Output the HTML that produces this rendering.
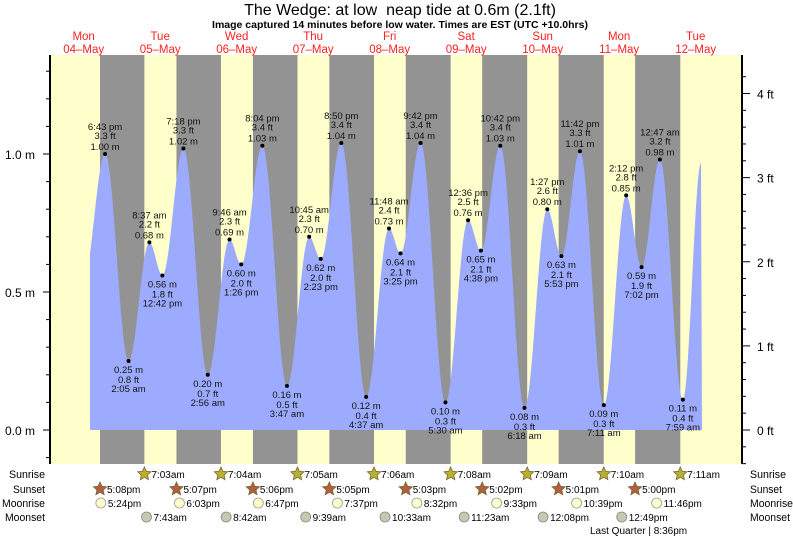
<!DOCTYPE html>
<html><head><meta charset="utf-8"><style>
body{margin:0;background:#fff;width:793px;height:538px;overflow:hidden}
svg{font-family:"Liberation Sans",sans-serif}
</style></head><body>
<svg id="s" width="793" height="538" xmlns="http://www.w3.org/2000/svg"></svg>
<script>
const s=document.getElementById('s');let h='';
const X0=45.4,PD=76.5,PH=PD/24;
const X=t=>X0+t*PH; const Y=m=>430-m*276;
const hm=(d,hh,mm,pm)=>d*24+((hh%12)+(pm?12:0))+mm/60;
h+=`<rect x="50" y="55" width="692" height="409" fill="#ffffcc"/>`;
const ss=[[5,8],[5,7],[5,6],[5,5],[5,3],[5,2],[5,1],[5,0]];
const sr=[[7,3],[7,4],[7,5],[7,6],[7,8],[7,9],[7,10],[7,11]];
for(let i=0;i<8;i++){const a=X(hm(i,ss[i][0],ss[i][1],1)),b=X(hm(i+1,sr[i][0],sr[i][1],0));h+=`<rect x="${a}" y="55" width="${b-a}" height="409" fill="#939393"/>`;}
const ev=[[hm(0,12,0,1),0.55],[hm(0,6,43,1),1.00,'6:43 pm'],
[hm(1,2,5,0),.25,'2:05 am'],[hm(1,8,37,0),.68,'8:37 am'],[hm(1,12,42,1),.56,'12:42 pm'],[hm(1,7,18,1),1.02,'7:18 pm'],
[hm(2,2,56,0),.20,'2:56 am'],[hm(2,9,46,0),.69,'9:46 am'],[hm(2,1,26,1),.60,'1:26 pm'],[hm(2,8,4,1),1.03,'8:04 pm'],
[hm(3,3,47,0),.16,'3:47 am'],[hm(3,10,45,0),.70,'10:45 am'],[hm(3,2,23,1),.62,'2:23 pm'],[hm(3,8,50,1),1.04,'8:50 pm'],
[hm(4,4,37,0),.12,'4:37 am'],[hm(4,11,48,0),.73,'11:48 am'],[hm(4,3,25,1),.64,'3:25 pm'],[hm(4,9,42,1),1.04,'9:42 pm'],
[hm(5,5,30,0),.10,'5:30 am'],[hm(5,12,36,1),.76,'12:36 pm'],[hm(5,4,38,1),.65,'4:38 pm'],[hm(5,10,42,1),1.03,'10:42 pm'],
[hm(6,6,18,0),.08,'6:18 am'],[hm(6,1,27,1),.80,'1:27 pm'],[hm(6,5,53,1),.63,'5:53 pm'],[hm(6,11,42,1),1.01,'11:42 pm'],
[hm(7,7,11,0),.09,'7:11 am'],[hm(7,2,12,1),.85,'2:12 pm'],[hm(7,7,2,1),.59,'7:02 pm'],
[hm(8,12,47,0),.98,'12:47 am'],[hm(8,7,59,0),.11,'7:59 am'],[hm(8,1,45,1),.97]];
function lv(t){for(let i=0;i<ev.length-1;i++){const a=ev[i],b=ev[i+1];if(t>=a[0]&&t<=b[0]){const f=(t-a[0])/(b[0]-a[0]);return a[1]+(b[1]-a[1])*(1-Math.cos(Math.PI*f))/2;}}return 0;}
let p=`M90,430`;for(let x=90;x<=702;x+=1){p+=`L${x},${Y(lv((x-X0)/PH)).toFixed(1)}`;}p+=`L702,430Z`;
h+=`<path d="${p}" fill="#9dabff"/>`;
ev.forEach((e,i)=>{if(!e[2])return;const x=X(e[0]),y=Y(e[1]);const ft=(e[1]/0.3048).toFixed(1),m=e[1].toFixed(2);
h+=`<circle cx="${x}" cy="${y}" r="2" fill="#000"/>`;const hi=e[1]>0.5&&(i==0||ev[i-1][1]<e[1]);
const t=(yy,s)=>`<text x="${x}" y="${yy}" font-size="9.5" text-anchor="middle" fill="#111">${s}</text>`;
if(hi)h+=t(y-24,e[2])+t(y-15,ft+' ft')+t(y-4,m+' m');else h+=t(y+12,m+' m')+t(y+22,ft+' ft')+t(y+31,e[2]);});
h+=`<line x1="50" y1="55" x2="50" y2="464" stroke="#000" stroke-width="2"/><line x1="742" y1="55" x2="742" y2="464" stroke="#000" stroke-width="2"/>`;
for(let m=-0.1;m<=1.35;m+=0.1){const y=Y(m);if(y<55||y>464)continue;const maj=Math.abs(m*2-Math.round(m*2))<.01;h+=`<line x1="${maj?43:46}" y1="${y}" x2="50" y2="${y}" stroke="#000"/>`;}
[[0,'0.0 m'],[.5,'0.5 m'],[1,'1.0 m']].forEach(a=>h+=`<text x="35" y="${Y(a[0])+5}" font-size="12" text-anchor="end">${a[1]}</text>`);
for(let f=-1.2;f<=4.4;f+=0.2){const y=Y(f*0.3048);if(y<55||y>464)continue;const maj=Math.abs(f-Math.round(f))<.01;h+=`<line x1="742" y1="${y}" x2="${maj?750:746}" y2="${y}" stroke="#000"/>`;if(maj&&Math.round(f)>=0)h+=`<text x="757" y="${y+5}" font-size="12">${Math.round(f)} ft</text>`;}
h+=`<text x="400" y="15" font-size="16" text-anchor="middle">The Wedge: at low&#160; neap tide at 0.6m (2.1ft)</text>`;
h+=`<text x="400" y="28" font-size="10.5" font-weight="bold" text-anchor="middle">Image captured 14 minutes before low water. Times are EST (UTC +10.0hrs)</text>`;
const dn=['Mon','Tue','Wed','Thu','Fri','Sat','Sun','Mon','Tue'];
for(let i=0;i<9;i++){const x=X(i*24+12);h+=`<text x="${x}" y="40" font-size="11.5" fill="#ff2020" text-anchor="middle">${dn[i]}</text><text x="${x}" y="53" font-size="11.5" fill="#ff2020" text-anchor="middle">${String(4+i).padStart(2,'0')}–May</text>`;}
const rows=[['Sunrise',474,36],['Sunset',489,32],['Moonrise',503,43],['Moonset',517,40]];
rows.forEach(r=>{h+=`<text x="${45-r[2]}" y="${r[1]+4}" font-size="11" textLength="${r[2]}" lengthAdjust="spacingAndGlyphs">${r[0]}</text><text x="750" y="${r[1]+4}" font-size="11" textLength="${r[2]}" lengthAdjust="spacingAndGlyphs">${r[0]}</text>`;});
const star=(x,y,c)=>{let q='';for(let k=0;k<10;k++){const a=-Math.PI/2+k*Math.PI/5,rr=k%2?3.3:7;q+=(k?'L':'M')+(x+rr*Math.cos(a)).toFixed(1)+','+(y+rr*Math.sin(a)).toFixed(1);}return `<path d="${q}Z" fill="${c}" stroke="#776633" stroke-width=".8"/>`;};
const lab=(x,y,s)=>`<text x="${x+7}" y="${y+4}" font-size="10">${s}</text>`;
for(let i=0;i<8;i++){let x=X(hm(i+1,sr[i][0],sr[i][1],0));h+=star(x,474,'#b8b030')+lab(x,474,`${sr[i][0]}:${String(sr[i][1]).padStart(2,'0')}am`);
x=X(hm(i,ss[i][0],ss[i][1],1));h+=star(x,489,'#b06040')+lab(x,489,`${ss[i][0]}:${String(ss[i][1]).padStart(2,'0')}pm`);}
const mr=[[5,24],[6,3],[6,47],[7,37],[8,32],[9,33],[10,39],[11,46]];
mr.forEach((m,i)=>{const x=X(hm(i,m[0],m[1],1));h+=`<circle cx="${x}" cy="503" r="5" fill="#ffffcc" stroke="#999" stroke-width=".8"/>`+lab(x,503,`${m[0]}:${String(m[1]).padStart(2,'0')}pm`);});
const ms=[[7,43,0],[8,42,0],[9,39,0],[10,33,0],[11,23,0],[12,8,1],[12,49,1]];
ms.forEach((m,i)=>{const x=X(hm(i+1,m[0],m[1],m[2]));h+=`<circle cx="${x}" cy="517" r="5" fill="#c8c8b0" stroke="#888" stroke-width=".8"/>`+lab(x,517,`${m[0]}:${String(m[1]).padStart(2,'0')}${m[2]?'pm':'am'}`);});
h+=`<text x="590" y="534" font-size="10">Last Quarter | 8:36pm</text>`;
s.innerHTML=h;
</script></body></html>
